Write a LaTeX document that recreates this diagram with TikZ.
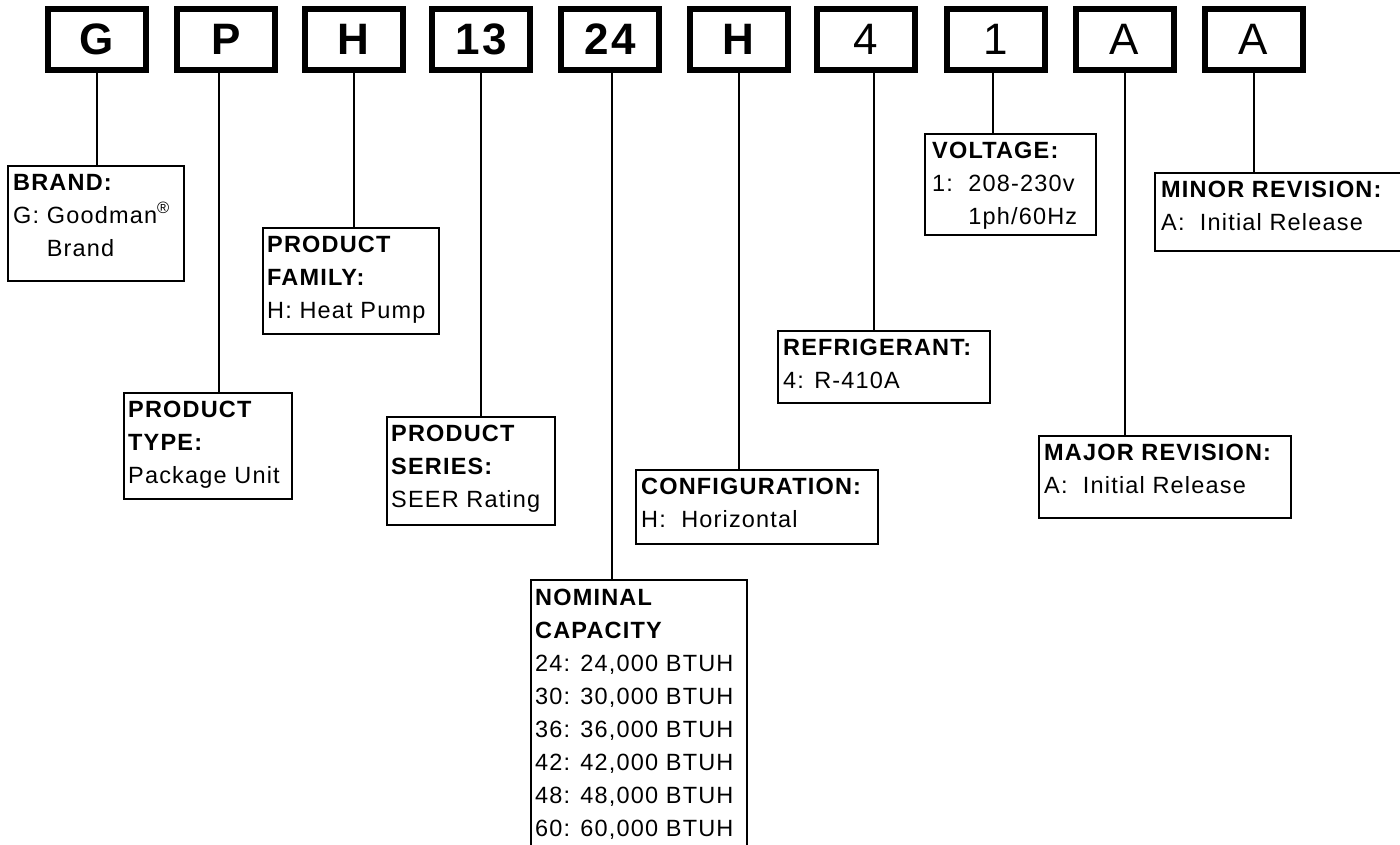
\documentclass[tikz,border=0pt]{standalone}
\usepackage{fontspec}
\setmainfont{Liberation Sans}[LetterSpace=5]
\begin{document}
\begin{tikzpicture}[x=1pt,y=-1pt,
  topbox/.style={draw, line width=6pt, inner sep=0pt, minimum width=98pt, minimum height=61pt, font=\fontsize{44}{50}\selectfont},
  lbox/.style={draw, line width=2pt, inner sep=0pt, anchor=north west},
  conn/.style={line width=2pt},
  txt/.style={anchor=base west, inner sep=0pt, font=\fontsize{23.5}{33}\selectfont}]
\useasboundingbox (0,0) rectangle (1400,844);
\clip (0,0) rectangle (1400,844);
% top code boxes
\node[topbox] (g)   at (97,39.5)    {\bfseries G};
\node[topbox] (p)   at (226,39.5)   {\bfseries P};
\node[topbox] (h)   at (353.5,39.5) {\bfseries H};
\node[topbox] (s13) at (481,39.5)   {\bfseries 13};
\node[topbox] (c24) at (610,39.5)   {\bfseries 24};
\node[topbox] (hh)  at (738.5,39.5) {\bfseries H};
\node[topbox] (r4)  at (866,39.5)   {4};
\node[topbox] (v1)  at (996,39.5)   {1};
\node[topbox] (ma)  at (1124.5,39.5){A};
\node[topbox] (mi)  at (1253.5,39.5){A};
% label boxes
\node[lbox, minimum width=176pt, minimum height=115pt] (brand)  at (7,165) {};
\node[lbox, minimum width=176pt, minimum height=106pt] (pfam)   at (262,227) {};
\node[lbox, minimum width=168pt, minimum height=106pt] (ptype)  at (123,392) {};
\node[lbox, minimum width=168pt, minimum height=108pt] (pser)   at (386,416) {};
\node[lbox, minimum width=216pt, minimum height=280pt] (nom)    at (530,579) {};
\node[lbox, minimum width=242pt, minimum height=74pt]  (config) at (635,469) {};
\node[lbox, minimum width=212pt, minimum height=72pt]  (refrig) at (777,330) {};
\node[lbox, minimum width=171pt, minimum height=101pt] (volt)   at (924,133) {};
\node[lbox, minimum width=260pt, minimum height=78pt]  (minor)  at (1154,172) {};
\node[lbox, minimum width=252pt, minimum height=82pt]  (major)  at (1038,435) {};
% texts
\node[txt] (brandt) at ([xshift=6pt,yshift=-25pt]brand.north west)
  {\begin{tabular}[t]{@{}l@{}}\bfseries BRAND:\\ G: Goodman\textsuperscript{\textregistered}\\ \phantom{G: }Brand\end{tabular}};
\node[txt] (pfamt) at ([xshift=5pt,yshift=-25pt]pfam.north west)
  {\begin{tabular}[t]{@{}l@{}}\bfseries PRODUCT\\ \bfseries FAMILY:\\ H: Heat Pump\end{tabular}};
\node[txt] (ptypet) at ([xshift=5pt,yshift=-25pt]ptype.north west)
  {\begin{tabular}[t]{@{}l@{}}\bfseries PRODUCT\\ \bfseries TYPE:\\ Package Unit\end{tabular}};
\node[txt] (psert) at ([xshift=5pt,yshift=-25pt]pser.north west)
  {\begin{tabular}[t]{@{}l@{}}\bfseries PRODUCT\\ \bfseries SERIES:\\ SEER Rating\end{tabular}};
\node[txt] (nomt) at ([xshift=5pt,yshift=-26pt]nom.north west)
  {\begin{tabular}[t]{@{}l@{}}\bfseries NOMINAL\\ \bfseries CAPACITY\\ 24: 24,000 BTUH\\ 30: 30,000 BTUH\\ 36: 36,000 BTUH\\ 42: 42,000 BTUH\\ 48: 48,000 BTUH\\ 60: 60,000 BTUH\end{tabular}};
\node[txt] (configt) at ([xshift=6pt,yshift=-25pt]config.north west)
  {\begin{tabular}[t]{@{}l@{}}\bfseries CONFIGURATION:\\ H:\ \ Horizontal\end{tabular}};
\node[txt] (refrigt) at ([xshift=6pt,yshift=-25pt]refrig.north west)
  {\begin{tabular}[t]{@{}l@{}}\bfseries REFRIGERANT:\\ 4: R-410A\end{tabular}};
\node[txt] (voltt) at ([xshift=8pt,yshift=-25pt]volt.north west)
  {\begin{tabular}[t]{@{}l@{}}\bfseries VOLTAGE:\\ 1:\ \ 208-230v\\ \phantom{1:\ \ }1ph/60Hz\end{tabular}};
\node[txt] (minort) at ([xshift=7pt,yshift=-25pt]minor.north west)
  {\begin{tabular}[t]{@{}l@{}}\bfseries MINOR REVISION:\\ A:\ \ Initial Release\end{tabular}};
\node[txt] (majort) at ([xshift=6pt,yshift=-25pt]major.north west)
  {\begin{tabular}[t]{@{}l@{}}\bfseries MAJOR REVISION:\\ A:\ \ Initial Release\end{tabular}};
% connectors
\draw[conn] (g.south) -- (g.south |- brand.north);
\draw[conn] ([xshift=-7pt]p.south) -- ([xshift=-7pt]p.south |- ptype.north);
\draw[conn] (h.south) -- (h.south |- pfam.north);
\draw[conn] (s13.south) -- (s13.south |- pser.north);
\draw[conn] ([xshift=2pt]c24.south) -- ([xshift=2pt]c24.south |- nom.north);
\draw[conn] (hh.south) -- (hh.south |- config.north);
\draw[conn] ([xshift=8pt]r4.south) -- ([xshift=8pt]r4.south |- refrig.north);
\draw[conn] ([xshift=-3pt]v1.south) -- ([xshift=-3pt]v1.south |- volt.north);
\draw[conn] (ma.south) -- (ma.south |- major.north);
\draw[conn] (mi.south) -- (mi.south |- minor.north);
\end{tikzpicture}
\end{document}
